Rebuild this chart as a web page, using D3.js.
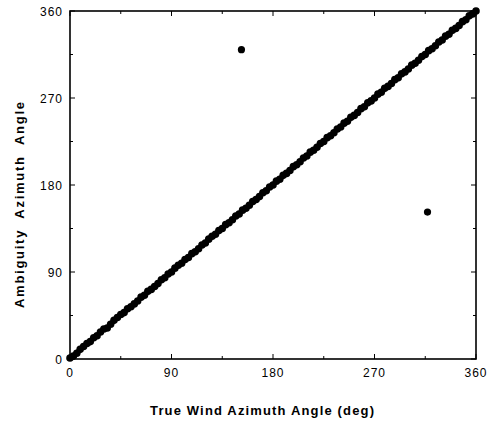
<!DOCTYPE html>
<html><head><meta charset="utf-8">
<script src="https://cdn.jsdelivr.net/npm/d3@7"></script>
<style>body{margin:0;background:#fff}svg{display:block}</style>
</head><body>
<script>
// data
const trueAngle = [0,3,6,9,12,15,18,21,24,27,30,33,36,39,42,45,48,51,54,57,60,63,66,69,72,75,78,81,84,87,90,93,96,99,102,105,108,111,114,117,120,123,126,129,132,135,138,141,144,147,150,153,156,159,162,165,168,171,174,177,180,183,186,189,192,195,198,201,204,207,210,213,216,219,222,225,228,231,234,237,240,243,246,249,252,255,258,261,264,267,270,273,276,279,282,285,288,291,294,297,300,303,306,309,312,315,318,321,324,327,330,333,336,339,342,345,348,351,354,357,360];
const ambiguityAngle = [1,3,6,10,13,16,18,22,24,28,31,32,36,40,43,46,48,52,54,57,60,64,66,70,72,75,78,82,84,88,90,94,97,99,103,105,109,111,114,118,120,124,127,129,133,135,139,141,144,148,150,154,156,159,163,165,168,172,174,178,180,184,186,190,192,195,199,201,204,208,210,214,216,219,223,225,229,231,234,238,240,244,246,250,252,255,259,261,265,267,270,274,276,280,282,285,289,291,295,297,300,304,306,309,313,315,319,321,324,328,330,334,336,340,342,345,349,351,355,357,360];
const outlierX = [152, 317];
const outlierY = [320, 152];
const tickLabels = [0, 90, 180, 270, 360];
const minorTicks = [45, 135, 225, 315];
const xTitle = "True Wind Azimuth Angle (deg)";
const yTitle = "Ambiguity  Azimuth  Angle";

const W = 489, H = 424;
const L = 70, R = 476, T = 11, B = 359;
const svg = d3.select("body").append("svg").attr("width", W).attr("height", H);
const x = d3.scaleLinear().domain([0, 360]).range([L, R]);
const y = d3.scaleLinear().domain([0, 360]).range([B, T]);

// frame
svg.append("rect").attr("x", L).attr("y", T).attr("width", R - L).attr("height", B - T)
  .attr("fill", "none").attr("stroke", "#000").attr("stroke-width", 1.6);

// ticks (inward)
const allT = tickLabels.concat(minorTicks);
allT.forEach(v => {
  const len = tickLabels.includes(v) ? 5 : 3;
  svg.append("line").attr("x1", x(v)).attr("x2", x(v)).attr("y1", B).attr("y2", B - len).attr("stroke", "#000");
  svg.append("line").attr("x1", x(v)).attr("x2", x(v)).attr("y1", T).attr("y2", T + len).attr("stroke", "#000");
  svg.append("line").attr("y1", y(v)).attr("y2", y(v)).attr("x1", L).attr("x2", L + len).attr("stroke", "#000");
  svg.append("line").attr("y1", y(v)).attr("y2", y(v)).attr("x1", R).attr("x2", R - len).attr("stroke", "#000");
});

const font = "Liberation Sans, Arial, Helvetica, sans-serif";
// tick labels
svg.selectAll(".xl").data(tickLabels).enter().append("text")
  .attr("x", d => x(d)).attr("y", B + 18).attr("text-anchor", "middle")
  .attr("font-family", font).attr("font-size", 12).attr("letter-spacing", 1).text(d => d);
svg.selectAll(".yl").data(tickLabels).enter().append("text")
  .attr("x", L - 7).attr("y", d => y(d) + 5).attr("text-anchor", "end")
  .attr("font-family", font).attr("font-size", 12).attr("letter-spacing", 1).text(d => d);

// titles
svg.append("text").attr("x", 262).attr("y", 415).attr("text-anchor", "middle")
  .attr("font-family", font).attr("font-size", 13).attr("font-weight", "bold")
  .attr("textLength", 224).attr("lengthAdjust", "spacing").text(xTitle);
svg.append("text").attr("transform", "translate(24,205) rotate(-90)").attr("text-anchor", "middle")
  .attr("font-family", font).attr("font-size", 13).attr("font-weight", "bold")
  .attr("textLength", 206).attr("lengthAdjust", "spacing").attr("xml:space", "preserve").text(yTitle);

// points
svg.selectAll(".pt").data(trueAngle.map((d, i) => [d, ambiguityAngle[i]])).enter().append("circle")
  .attr("cx", d => x(d[0])).attr("cy", d => y(d[1])).attr("r", 3.8).attr("fill", "#000");
svg.selectAll(".out").data(outlierX.map((d, i) => [d, outlierY[i]])).enter().append("circle")
  .attr("cx", d => x(d[0])).attr("cy", d => y(d[1])).attr("r", 3.6).attr("fill", "#000");
</script>
</body></html>
